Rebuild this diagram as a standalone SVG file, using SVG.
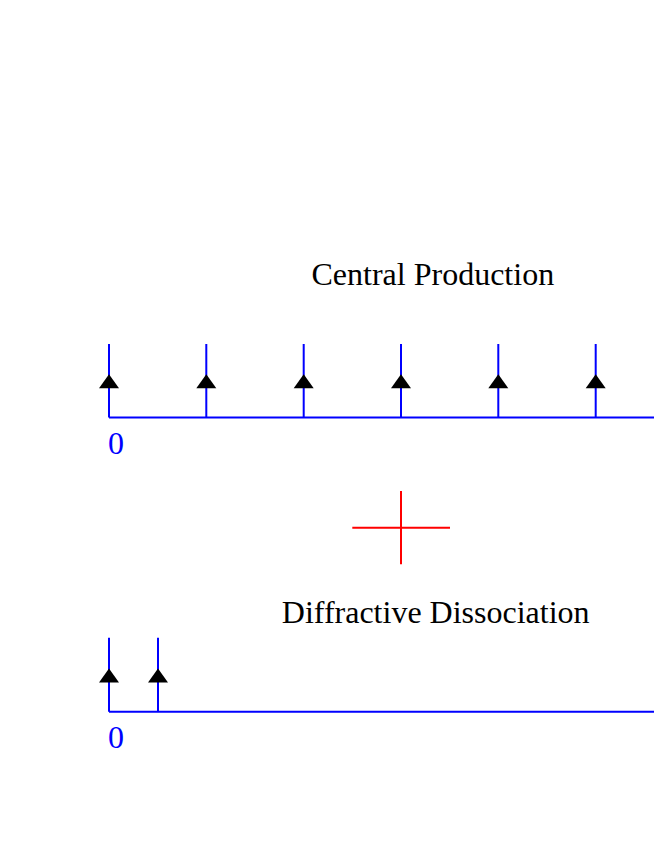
<svg xmlns="http://www.w3.org/2000/svg" width="654" height="846" viewBox="0 0 654 846">
<style>
.ax{stroke:#0000ff;stroke-width:2;fill:none}
.arr{fill:#000000}
.t{font-family:"Liberation Serif","Times New Roman",serif;font-size:32px;fill:#000000}
.n{font-family:"Liberation Serif","Times New Roman",serif;font-size:32px;fill:#0000ff}
.cross{stroke:#ff0000;stroke-width:2}
</style>
<defs>
<path id="tri" d="M0,0 L-10,14 L10,14 Z"/>
</defs>
<rect width="654" height="846" fill="#ffffff"/>
<g id="central">
<text class="t" x="311.5" y="285">Central Production</text>
<g id="central-axis">
<path class="ax" d="M109,417.5 H654 M109,344 V417.5 M206.3,344 V417.5 M303.7,344 V417.5 M401,344 V417.5 M498.3,344 V417.5 M595.7,344 V417.5"/>
<use href="#tri" class="arr" x="109" y="374.3"/>
<use href="#tri" class="arr" x="206.3" y="374.3"/>
<use href="#tri" class="arr" x="303.7" y="374.3"/>
<use href="#tri" class="arr" x="401" y="374.3"/>
<use href="#tri" class="arr" x="498.3" y="374.3"/>
<use href="#tri" class="arr" x="595.7" y="374.3"/>
</g>
<text class="n" x="108" y="453.5">0</text>
</g>
<g id="plus">
<path class="cross" d="M352.3,527.7 H450 M401,491 V564.3"/>
</g>
<g id="diffractive">
<text class="t" x="281.8" y="623">Diffractive Dissociation</text>
<g id="diffractive-axis">
<path class="ax" d="M109,711.7 H654 M109,637.7 V711.7 M158,637.7 V711.7"/>
<use href="#tri" class="arr" x="109" y="668.5"/>
<use href="#tri" class="arr" x="158" y="668.5"/>
</g>
<text class="n" x="108" y="747.5">0</text>
</g>
</svg>
